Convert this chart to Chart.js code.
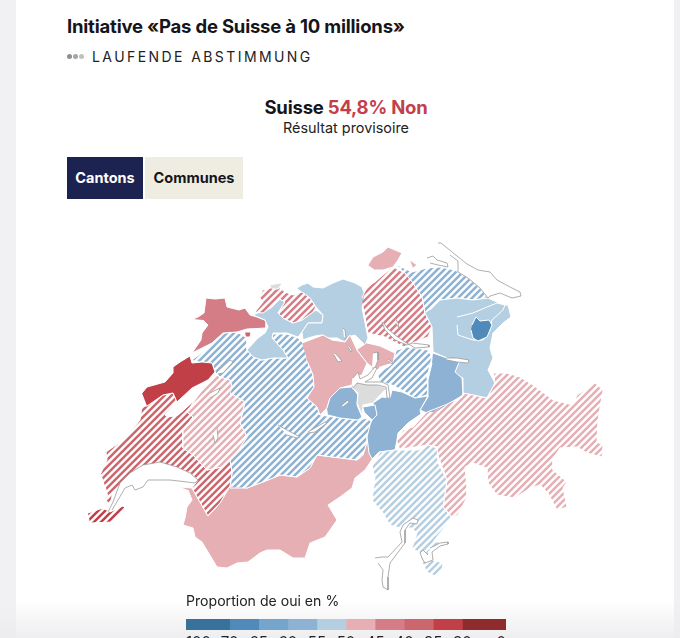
<!DOCTYPE html>
<html>
<head>
<meta charset="utf-8">
<title>Initiative «Pas de Suisse à 10 millions»</title>
<script src="https://cdn.jsdelivr.net/npm/chart.js@4/dist/chart.umd.min.js"></script>
<style>
  html, body { margin: 0; padding: 0; background: #fff; }
  body { position: relative; width: 680px; height: 638px; overflow: hidden; font-family: Inter, sans-serif; color: #15151a; }
  .bande { position: absolute; top: 0; bottom: 0; background: #f1f1f4; }
  h1 { position: absolute; left: 67px; top: 15px; margin: 0; font-size: 18.5px; font-weight: 700; letter-spacing: -0.2px; white-space: nowrap; }
  .direct { position: absolute; left: 92px; top: 48px; font-size: 14px; letter-spacing: 2.42px; white-space: nowrap; color: #222; }
  .point { position: absolute; top: 54px; width: 5px; height: 5px; border-radius: 50%; }
  .resultat { position: absolute; left: 0; width: 692px; text-align: center; white-space: nowrap; }
  .boutons span { position: absolute; top: 157px; height: 42px; line-height: 42px; text-align: center; font-size: 14.5px; font-weight: 700; }
  .titre-legende { position: absolute; left: 186px; top: 592px; font-size: 14.1px; white-space: nowrap; color: #222; }
  #carte { position: absolute; left: 80px; top: 235px; }
  #legende { position: absolute; left: 186px; top: 619px; }
  .fondu { position: absolute; left: 0; right: 0; top: 600px; height: 38px; background: linear-gradient(rgba(236,236,238,0), rgba(236,236,238,.9)); pointer-events: none; }
</style>
</head>
<body>
<div class="bande" style="left:0;width:16px"></div>
<div class="bande" style="right:0;width:6px"></div>
<div class="fondu"></div>

<h1>Initiative «Pas de Suisse à 10 millions»</h1>
<span class="point" style="left:67px;background:#8f8f93"></span>
<span class="point" style="left:73px;background:#a5a5a9"></span>
<span class="point" style="left:79px;background:#c0c0c3"></span>
<div class="direct">LAUFENDE ABSTIMMUNG</div>

<div class="resultat" style="top:96px;font-size:18.5px;font-weight:700;letter-spacing:-0.2px">Suisse <span style="color:#c2404a">54,8% Non</span></div>
<div class="resultat" style="top:119px;font-size:14.4px;color:#222">Résultat provisoire</div>

<div class="boutons">
  <span style="left:67px;width:76px;background:#1d2350;color:#fff">Cantons</span>
  <span style="left:145px;width:98px;background:#efece2;color:#15151a">Communes</span>
</div>

<canvas id="carte" width="540" height="365"></canvas>

<div class="titre-legende">Proportion de oui en %</div>
<canvas id="legende" width="320" height="40"></canvas>

<script>
// Contours des cantons (unités de la carte)
const valais = [[180,487],[192,488],[208,516],[220,503],[230,486],[247,488],[268,480],[280,475],[297,477],[310,468],[317,455],[333,457],[357,460],[363,455],[367,442],[372,452],[373,458],[365,470],[355,478],[352,488],[340,497],[328,505],[337,520],[330,530],[325,537],[310,543],[305,558],[293,558],[280,550],[267,550],[260,553],[248,562],[237,563],[227,568],[217,567],[208,552],[202,542],[195,537],[193,528],[183,525],[185,518],[187,507],[192,500],[188,490]];
const berne = [[192,360],[212,345],[223,333],[237,332],[247,338],[247,350],[253,357],[262,360],[273,358],[288,358],[283,350],[272,338],[273,334],[287,334],[298,338],[303,343],[308,363],[313,375],[314,387],[307,398],[317,407],[320,415],[340,418],[358,420],[368,418],[372,423],[367,435],[367,442],[363,455],[357,460],[333,457],[317,455],[310,468],[297,477],[280,475],[268,480],[247,488],[230,488],[232,473],[230,460],[237,452],[247,437],[240,423],[245,402],[230,393],[232,387],[230,380],[220,377],[215,372],[212,363],[202,362]];
const vaud = [[101,473],[107,460],[106,452],[123,440],[132,430],[140,420],[142,406],[147,406],[163,395],[173,393],[177,402],[165,415],[168,417],[178,415],[187,407],[195,400],[187,412],[193,417],[183,430],[183,448],[193,455],[207,470],[222,467],[230,460],[232,473],[230,486],[220,503],[208,516],[192,488],[198,480],[190,473],[160,464],[130,475],[115,490],[108,497],[105,486]];
const vaudNyon = [[105,498],[113,492],[110,505]];
const geneve = [[88,513],[103,508],[110,512],[123,506],[125,508],[113,522],[90,523]];
const fribourg = [[230,393],[245,402],[240,423],[247,437],[237,452],[230,460],[222,467],[207,470],[193,455],[183,448],[183,430],[193,417],[187,412],[195,400],[208,382],[215,374],[220,377],[230,380],[232,387]];
const neuchatel = [[142,393],[147,387],[165,382],[173,373],[173,367],[180,362],[190,356],[192,363],[202,362],[212,363],[215,372],[208,380],[192,388],[177,402],[173,393],[163,395],[147,406]];
const jura = [[193,319],[198,317],[204,313],[206,298],[215,299],[225,298],[227,307],[239,310],[245,308],[250,315],[257,317],[267,321],[266,328],[247,329],[237,332],[223,333],[212,343],[192,353],[201,340],[202,333],[208,325],[203,320]];
const moutier = [[245,332],[251,332],[250,337],[246,337]];
const soleure = [[280,299],[285,302],[278,313],[283,318],[293,323],[302,320],[313,312],[316,310],[323,315],[322,323],[308,323],[302,332],[298,337],[287,333],[273,333],[272,338],[283,350],[288,358],[273,358],[262,360],[253,357],[247,350],[258,338],[265,333],[268,327],[265,320],[253,315],[272,307]];
const baleCampagne = [[263,290],[270,288],[280,288],[285,292],[293,295],[302,292],[310,298],[316,307],[313,312],[302,320],[293,323],[283,318],[278,313],[285,302],[280,299],[272,307],[263,313],[255,312],[263,302],[260,298]];
const baleVille = [[270,285],[280,283],[282,284],[278,289],[272,289]];
const argovie = [[297,288],[302,285],[308,283],[313,287],[323,288],[333,283],[343,279],[355,283],[362,287],[365,295],[362,308],[365,323],[368,338],[365,345],[355,335],[348,337],[345,342],[337,338],[328,338],[322,335],[315,336],[308,338],[303,340],[302,332],[308,323],[322,323],[323,315],[316,307],[310,298],[302,292]];
const lucerne = [[302,343],[310,340],[323,335],[332,340],[345,342],[350,335],[357,350],[367,363],[362,375],[353,378],[352,385],[340,388],[330,398],[327,408],[320,415],[317,407],[307,398],[314,387],[313,375],[308,363]];
const zoug = [[367,343],[380,346],[395,353],[393,363],[380,367],[378,370],[372,367],[367,363],[357,350]];
const zurich = [[362,298],[367,287],[375,282],[383,275],[393,267],[405,273],[413,283],[422,297],[425,313],[432,327],[428,337],[412,343],[405,347],[400,345],[385,337],[368,333],[365,317],[363,307]];
const schaffhouse = [[368,265],[373,257],[383,252],[388,247],[402,253],[398,260],[393,267],[383,270],[375,270]];
const stein = [[410,260],[417,265],[413,268]];
const thurgovie = [[397,265],[412,272],[427,268],[440,267],[455,270],[468,278],[480,288],[488,298],[473,300],[457,298],[440,300],[435,310],[425,313],[422,297],[413,283],[405,273]];
const saintGall = [[430,310],[440,300],[457,298],[473,300],[488,298],[503,305],[508,305],[511,317],[503,323],[493,333],[490,348],[493,358],[488,370],[495,383],[487,398],[473,395],[463,393],[463,378],[452,373],[458,365],[447,358],[433,352],[432,327],[425,313]];
const appenzellRE = [[457,317],[473,313],[487,307],[497,303],[505,305],[503,310],[492,320],[490,330],[483,340],[473,340],[458,335],[457,325]];
const appenzellRI = [[472,325],[476,317],[480,321],[489,320],[492,325],[487,337],[478,341],[473,338],[471,330]];
const schwyz = [[397,350],[407,347],[428,350],[432,357],[427,377],[428,395],[415,398],[402,390],[392,385],[380,382],[377,373],[382,370],[388,367],[393,363]];
const glaris = [[433,353],[447,358],[460,360],[455,372],[462,378],[463,395],[450,403],[437,412],[427,413],[420,410],[428,397],[428,380],[432,363]];
const uri = [[375,417],[373,403],[382,397],[390,398],[392,390],[402,392],[415,398],[428,396],[420,410],[421,414],[408,423],[398,433],[397,440],[395,450],[379,452],[372,459],[369,453],[367,437],[370,425],[372,420]];
const obwald = [[327,408],[330,398],[340,388],[352,387],[358,395],[357,405],[362,417],[358,420],[340,418],[328,415]];
const nidwald = [[352,385],[358,382],[378,385],[387,388],[380,395],[373,403],[363,405],[362,415],[357,403],[358,393],[352,388]];
const engelberg = [[363,407],[375,405],[377,415],[372,420],[365,413]];
const grisons = [[397,440],[403,430],[413,427],[427,412],[445,405],[462,397],[463,393],[473,395],[487,398],[495,383],[493,373],[507,373],[520,377],[533,385],[553,400],[573,405],[577,395],[590,387],[595,383],[603,390],[598,420],[597,442],[603,445],[602,457],[587,453],[577,447],[560,448],[553,458],[553,470],[567,482],[563,488],[567,507],[557,510],[548,493],[540,485],[530,488],[515,498],[497,495],[488,483],[487,468],[473,463],[465,467],[467,488],[467,497],[458,515],[453,518],[443,507],[447,480],[437,453],[437,447],[428,445],[415,447],[400,449]];
const tessin = [[373,465],[380,452],[395,450],[418,450],[428,445],[437,448],[438,463],[447,480],[443,507],[452,518],[440,533],[433,542],[448,542],[447,546],[437,547],[428,552],[432,560],[443,563],[442,570],[437,577],[427,572],[422,562],[420,553],[412,548],[417,533],[412,528],[400,528],[390,525],[383,513],[372,500],[375,478],[373,470]];

// Lacs
const lacLeman = [[108,512],[113,502],[120,483],[130,473],[143,465],[160,462],[177,467],[190,473],[198,480],[195,483],[187,482],[170,480],[148,480],[143,487],[135,490],[132,485],[125,488],[118,500],[112,510]];
const lacNeuchatel = [[165,415],[177,403],[193,390],[208,380],[210,382],[200,393],[187,407],[178,415],[168,417]];
const lacBienne = [[217,372],[230,360],[233,362],[223,373],[218,374]];
const lacMorat = [[210,393],[220,388],[218,393],[212,397]];
const lacGruyere = [[217,428],[218,438],[215,443],[213,435]];
const lacThoune = [[278,425],[287,430],[300,437],[297,438],[287,435]];
const lacBrienz = [[308,432],[325,422],[327,423],[315,432],[308,433]];
const lacHallwil = [[343,328],[345,330],[346,338],[344,338]];
const lacBaldegg = [[348,345],[352,350],[351,352],[348,347]];
const lacSempach = [[335,353],[342,361],[338,362],[334,355]];
const lacZoug = [[373,353],[378,352],[378,360],[375,368],[372,368]];
const lacAegeri = [[388,359],[393,363],[392,364],[388,361]];
const lacQuatreCantons = [[353,378],[358,372],[360,379],[368,375],[375,367],[377,368],[372,378],[365,382],[382,382],[388,385],[390,398],[387,398],[386,387],[378,385],[367,385],[357,383],[353,388]];
const lacSarnen = [[342,405],[348,400],[349,402],[343,407]];
const lacZurich = [[382,322],[385,330],[395,340],[407,345],[412,343],[429,345],[429,347],[415,348],[405,342],[395,335],[387,328],[383,322]];
const lacGreifen = [[395,318],[398,323],[399,328],[397,325]];
const lacWalen = [[446,358],[457,358],[469,360],[468,363],[457,362],[447,360]];
const lacConstance = [[438,243],[441,243],[457,256],[467,264],[478,270],[490,272],[497,280],[510,287],[520,292],[521,296],[512,298],[500,293],[490,296],[488,298],[480,288],[468,278],[458,272],[458,268],[458,261],[450,255]];
const untersee = [[427,258],[433,256],[437,260],[447,263],[448,267],[438,265],[430,263]];
const lacMajeur = [[375,558],[382,557],[388,557],[402,542],[400,532],[403,525],[413,518],[418,520],[417,524],[410,523],[405,530],[405,543],[390,563],[388,577],[388,590],[383,587],[382,580],[383,570],[378,563]];
const lacLugano = [[430,548],[440,543],[448,542],[448,544],[440,546],[432,552],[433,560],[425,563],[423,560],[420,553],[423,550],[428,555]];

const cantonNames = ['Valais','Berne','Vaud','Vaud (Nyon)','Genève','Fribourg','Neuchâtel','Jura','Moutier','Soleure','Bâle-Campagne','Argovie','Lucerne','Zoug','Zurich','Schaffhouse','Stein','Thurgovie','Saint-Gall','Appenzell RE','Appenzell RI','Schwyz','Glaris','Uri','Obwald','Engelberg','Grisons','Tessin','Nidwald','Bâle-Ville'];
const cantonOutlines = [valais,berne,vaud,vaudNyon,geneve,fribourg,neuchatel,jura,moutier,soleure,baleCampagne,argovie,lucerne,zoug,zurich,schaffhouse,stein,thurgovie,saintGall,appenzellRE,appenzellRI,schwyz,glaris,uri,obwald,engelberg,grisons,tessin,nidwald,baleVille];
// proportion de oui estimée d'après la classe de couleur, null = pas encore de résultat
const cantonShares = [47,57,37,37,33,47,33,42,37,52,42,52,47,47,42,47,47,57,52,52,67,57,57,57,57,57,47,52,null,null];
// true = résultat définitif (aplat), false = encore en cours (hachures)
const cantonFinal = [true,false,false,false,false,false,true,true,true,true,false,true,true,true,false,true,true,false,true,true,true,false,true,true,true,true,false,false,true,true];

const lakeOutlines = [lacLeman,lacNeuchatel,lacBienne,lacMorat,lacGruyere,lacThoune,lacBrienz,lacHallwil,lacBaldegg,lacSempach,lacZoug,lacAegeri,lacQuatreCantons,lacSarnen,lacZurich,lacGreifen,lacWalen,lacConstance,untersee,lacMajeur,lacLugano];

// Légende
const legendBreaks = [100,70,65,60,55,50,45,40,35,30,0];
const legendLabels = ['100','70','65','60','55','50','45','40','35','30','0'];
const legendWidths = [1.5,1,1,1,1,1,1,1,1,1.5];
const legendColors = ['#38719b','#4f8abb','#75a5cd','#8db2d3','#b5cfe2','#e6afb4','#d57d87','#cc666e','#c13f46','#8f2b2d'];

const couleurPour = (part) => {
  if (part === null) return '#dcdcdc';
  for (let i = 0; i < legendColors.length; i++) {
    if (part <= legendBreaks[i] && part > legendBreaks[i + 1]) return legendColors[i];
  }
  return '#dcdcdc';
};

const hachures = (couleur) => {
  const taille = 7;
  const tuile = document.createElement('canvas');
  tuile.width = taille;
  tuile.height = taille;
  const ctx = tuile.getContext('2d');
  ctx.strokeStyle = couleur;
  ctx.lineWidth = 2.5;
  [[-taille, taille, taille, -taille], [0, taille, taille, 0], [0, taille * 2, taille * 2, 0]].forEach(([a, b, c, d]) => {
    ctx.beginPath();
    ctx.moveTo(a, b);
    ctx.lineTo(c, d);
    ctx.stroke();
  });
  return ctx.createPattern(tuile, 'repeat');
};

const versPoints = (contour) => contour.map(([x, y]) => ({ x, y }));

const jeuxCantons = cantonOutlines.map((contour, i) => {
  const couleur = couleurPour(cantonShares[i]);
  return {
    label: cantonNames[i],
    data: versPoints(contour),
    showLine: true,
    fill: 'shape',
    backgroundColor: cantonFinal[i] ? couleur : hachures(couleur),
    borderColor: '#fff',
    borderWidth: 1,
    pointRadius: 0,
    tension: 0
  };
});

const jeuxLacs = lakeOutlines.map((contour) => ({
  label: 'lac',
  data: versPoints(contour),
  showLine: true,
  fill: 'shape',
  backgroundColor: '#fff',
  // le lac de Neuchâtel n'a pas de trait gris sur l'original
  borderColor: contour === lacNeuchatel ? '#fff' : '#9a9a9a',
  borderWidth: 0.8,
  pointRadius: 0,
  tension: 0
}));

// le dernier jeu doit passer au-dessus des autres
const jeux = [...jeuxCantons, ...jeuxLacs];
jeux.forEach((jeu, i) => { jeu.order = -i; });

new Chart(document.getElementById('carte'), {
  type: 'scatter',
  data: { datasets: jeux },
  options: {
    responsive: false,
    animation: false,
    events: [],
    layout: { padding: 0 },
    plugins: { legend: { display: false }, tooltip: { enabled: false } },
    scales: {
      x: { type: 'linear', display: false, min: 80, max: 620 },
      y: { type: 'linear', display: false, min: 235, max: 600, reverse: true }
    }
  }
});

new Chart(document.getElementById('legende'), {
  type: 'bar',
  data: {
    labels: ['Proportion de oui en %'],
    datasets: legendWidths.map((largeur, i) => ({
      data: [largeur],
      backgroundColor: legendColors[i],
      borderWidth: 0,
      barPercentage: 1,
      categoryPercentage: 1
    }))
  },
  options: {
    indexAxis: 'y',
    responsive: false,
    animation: false,
    events: [],
    layout: { padding: 0 },
    plugins: { legend: { display: false }, tooltip: { enabled: false } },
    scales: {
      y: { stacked: true, display: false },
      x: {
        stacked: true,
        min: 0,
        max: 11,
        border: { display: false },
        grid: { display: false, drawTicks: false },
        afterBuildTicks: (axe) => {
          let cumul = 0;
          const valeurs = [0, ...legendWidths.map((l) => (cumul += l))];
          axe.ticks = valeurs.map((value) => ({ value }));
        },
        afterFit: (axe) => {
          axe.height = 29;
          axe.paddingLeft = 0;
          axe.paddingRight = 0;
        },
        ticks: {
          autoSkip: false,
          maxRotation: 0,
          align: 'inner',
          padding: 3,
          color: '#222',
          font: { family: 'Inter', size: 15 },
          callback: (valeur, index) => legendLabels[index]
        }
      }
    }
  }
});
</script>
</body>
</html>
